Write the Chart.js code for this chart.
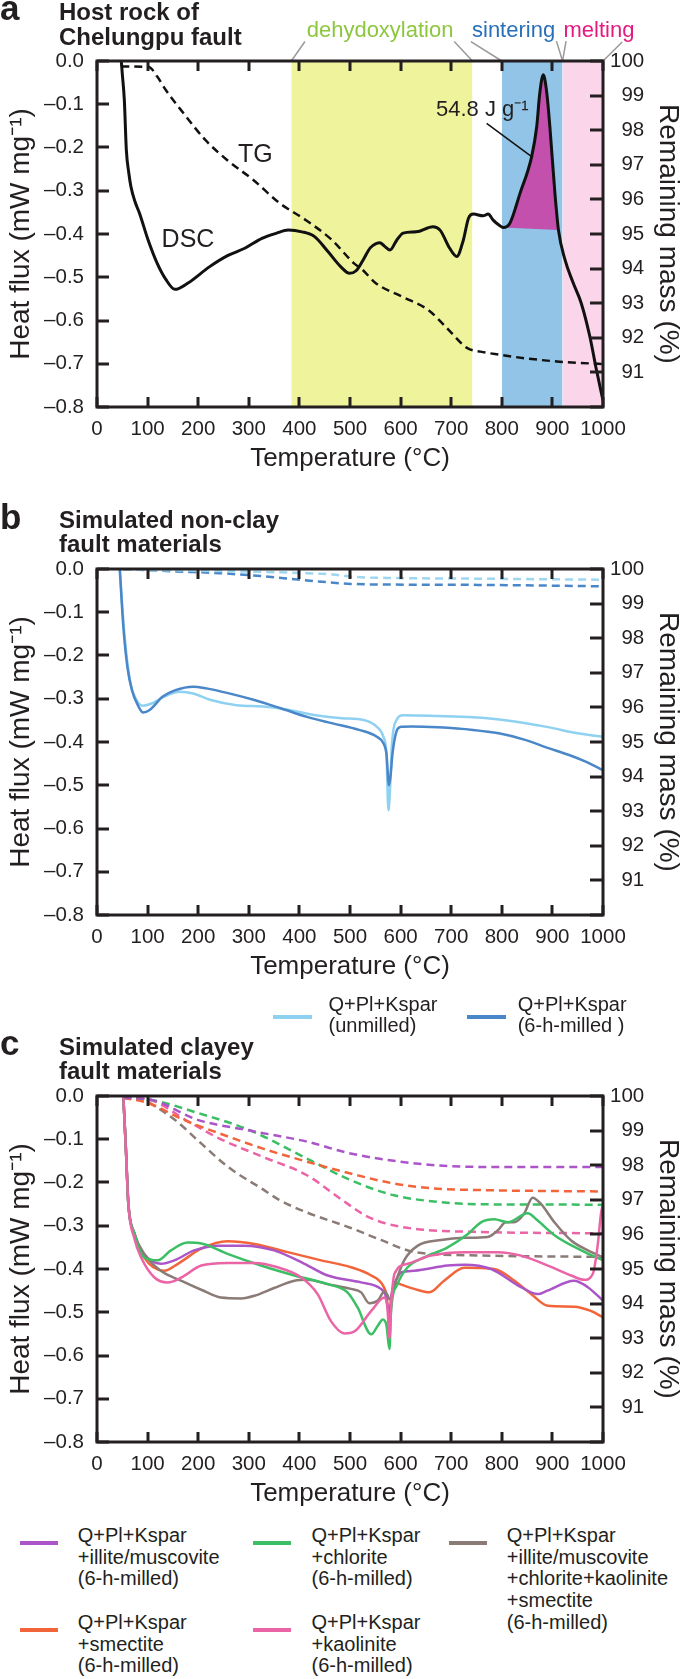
<!DOCTYPE html>
<html lang="en">
<head>
<meta charset="UTF-8">
<title>DSC and TG curves of fault materials</title>
<script src="https://cdn.jsdelivr.net/npm/chart.js"></script>
<style>
  body { margin: 0; background: #fff; font-family: "Liberation Sans", Arial, sans-serif; color: #231f20; }
  #page { position: relative; width: 685px; height: 1679px; overflow: hidden; }
  #page canvas { position: absolute; left: 0; }
  .t { position: absolute; white-space: nowrap; }
  .sw { position: absolute; height: 4px; }
</style>
</head>
<body>
<div id="page">
  <canvas id="chartA" width="685" height="477" style="top:0"></canvas>
  <canvas id="chartB" width="685" height="477" style="top:508px"></canvas>
  <canvas id="chartC" width="685" height="477" style="top:1035px"></canvas>
</div>
<script>
// ---- panel a: host rock of Chelungpu fault ----
const aDscT = [48, 50, 54, 58, 63, 67, 75, 84, 101, 119, 136, 154, 179, 222, 258, 292, 326, 355, 378, 405,
  430, 456, 482, 499, 512, 526, 540, 552, 559, 568, 579, 592, 605, 631, 664, 678, 697, 711, 724, 734,
  744, 763, 773, 783, 795, 803, 816, 836, 859, 869, 875, 882, 889, 895, 905, 912, 925, 940, 957, 974, 987, 1000];
const aDscV = [0, -0.03, -0.09, -0.206, -0.26, -0.29, -0.325, -0.352, -0.414, -0.468, -0.505, -0.528, -0.514, -0.476, -0.45, -0.433, -0.41, -0.398, -0.391, -0.395,
  -0.406, -0.44, -0.476, -0.491, -0.485, -0.46, -0.432, -0.422, -0.42, -0.428, -0.437, -0.415, -0.398, -0.395, -0.383, -0.391, -0.433, -0.452, -0.414, -0.364,
  -0.354, -0.358, -0.354, -0.368, -0.38, -0.385, -0.375, -0.306, -0.221, -0.152, -0.075, -0.032, -0.075, -0.152, -0.306, -0.391, -0.46, -0.51, -0.56, -0.637, -0.714, -0.785];
const aTgT = [48, 102, 119, 136, 171, 214, 257, 309, 361, 413, 464, 508, 525, 551, 603, 655, 689, 732, 758, 801, 845, 914, 1000];
const aTgV = [99.84, 99.83, 99.55, 99.16, 98.49, 97.72, 97.14, 96.56, 95.89, 95.4, 94.83, 94.15, 93.96, 93.58, 93.19, 92.8, 92.32, 91.7, 91.6, 91.5, 91.41, 91.31, 91.24];
const peakRange = [803, 912];
const peakBaseT = [803, 912];
const peakBaseV = [-0.385, -0.391];
const regionNames = ['dehydoxylation', 'sintering', 'melting'];
const regionStart = [384, 800, 920];
const regionEnd = [742, 920, 1000];

// ---- panel b: simulated non-clay fault materials ----
const bNames = ['Q+Pl+Kspar\n(unmilled)', 'Q+Pl+Kspar\n(6-h-milled )'];
const bUnT = [45, 54, 65, 78, 91, 108, 130, 164, 190, 225, 276, 328, 380, 432, 484, 527, 553, 566, 572, 576, 579, 583, 592, 605, 674, 743, 803, 889, 950, 1000];
const bUnV = [0, -0.148, -0.257, -0.303, -0.316, -0.311, -0.297, -0.284, -0.288, -0.303, -0.315, -0.318, -0.326, -0.338, -0.345, -0.349, -0.365, -0.388, -0.427, -0.558, -0.512, -0.403, -0.349, -0.338, -0.34, -0.343, -0.349, -0.365, -0.38, -0.388];
const bMiT = [45, 52, 60, 69, 82, 91, 104, 130, 155, 190, 216, 259, 311, 363, 415, 466, 518, 553, 566, 572, 577, 580, 584, 592, 600, 622, 674, 743, 794, 846, 889, 933, 967, 1000];
const bMiV = [0, -0.133, -0.226, -0.28, -0.318, -0.332, -0.326, -0.295, -0.28, -0.272, -0.276, -0.287, -0.303, -0.322, -0.342, -0.357, -0.372, -0.388, -0.403, -0.427, -0.5, -0.48, -0.427, -0.375, -0.365, -0.364, -0.366, -0.372, -0.38, -0.395, -0.413, -0.43, -0.446, -0.465];
const bUnTgT = [52, 200, 415, 466, 510, 587, 760, 1000];
const bUnTgV = [99.98, 99.95, 99.88, 99.84, 99.77, 99.74, 99.72, 99.69];
const bMiTgT = [52, 155, 242, 328, 415, 501, 587, 760, 1000];
const bMiTgV = [100, 99.93, 99.88, 99.79, 99.67, 99.57, 99.55, 99.54, 99.5];

// ---- panel c: simulated clayey fault materials ----
const cNames = ['Q+Pl+Kspar\n+illite/muscovite\n(6-h-milled)', 'Q+Pl+Kspar\n+smectite\n(6-h-milled)',
  'Q+Pl+Kspar\n+chlorite\n(6-h-milled)', 'Q+Pl+Kspar\n+kaolinite\n(6-h-milled)',
  'Q+Pl+Kspar\n+illite/muscovite\n+chlorite+kaolinite\n+smectite\n(6-h-milled)'];
const cPurT = [52, 57, 62, 74, 93, 126, 153, 192, 239, 291, 350, 410, 456, 522, 561, 570, 575, 578, 582, 594, 601, 627, 693, 726, 779, 838, 871, 890, 943, 970, 1000];
const cPurV = [0, -0.12, -0.25, -0.318, -0.365, -0.388, -0.38, -0.357, -0.346, -0.346, -0.357, -0.388, -0.415, -0.431, -0.446, -0.46, -0.49, -0.5, -0.46, -0.419, -0.408, -0.404, -0.392, -0.39, -0.4, -0.442, -0.458, -0.45, -0.427, -0.442, -0.473];
const cOrgT = [52, 57, 62, 74, 93, 133, 160, 206, 258, 311, 377, 443, 502, 542, 565, 572, 578, 582, 588, 601, 627, 657, 686, 726, 785, 825, 858, 891, 943, 976, 1000];
const cOrgV = [0, -0.12, -0.25, -0.318, -0.373, -0.404, -0.388, -0.353, -0.336, -0.342, -0.361, -0.38, -0.396, -0.415, -0.438, -0.46, -0.52, -0.47, -0.431, -0.436, -0.446, -0.454, -0.427, -0.397, -0.4, -0.427, -0.458, -0.485, -0.487, -0.497, -0.512];
const cGrnT = [52, 57, 62, 74, 93, 120, 146, 179, 206, 258, 324, 390, 456, 495, 515, 542, 555, 565, 572, 578, 581, 594, 614, 647, 693, 733, 759, 785, 812, 851, 871, 904, 957, 1000];
const cGrnV = [0, -0.12, -0.25, -0.318, -0.373, -0.38, -0.357, -0.339, -0.341, -0.365, -0.392, -0.415, -0.435, -0.454, -0.489, -0.551, -0.531, -0.517, -0.53, -0.585, -0.5, -0.435, -0.396, -0.373, -0.35, -0.319, -0.292, -0.285, -0.292, -0.271, -0.288, -0.322, -0.357, -0.38];
const cPnkT = [52, 57, 62, 74, 87, 113, 140, 166, 206, 258, 311, 357, 403, 436, 462, 489, 508, 542, 568, 574, 578, 582, 588, 614, 660, 726, 792, 838, 891, 937, 963, 980, 989, 996, 1000];
const cPnkV = [0, -0.12, -0.25, -0.33, -0.373, -0.419, -0.431, -0.42, -0.392, -0.386, -0.386, -0.396, -0.419, -0.458, -0.52, -0.549, -0.545, -0.497, -0.466, -0.49, -0.56, -0.47, -0.411, -0.388, -0.369, -0.361, -0.361, -0.369, -0.392, -0.415, -0.425, -0.411, -0.35, -0.272, -0.25];
const cBrnT = [52, 57, 62, 74, 93, 126, 166, 206, 245, 285, 311, 350, 390, 416, 456, 502, 522, 538, 555, 568, 574, 578, 591, 607, 634, 680, 726, 772, 792, 808, 824, 844, 861, 877, 904, 937, 970, 1000];
const cBrnV = [0, -0.12, -0.25, -0.318, -0.365, -0.404, -0.427, -0.448, -0.466, -0.468, -0.462, -0.444, -0.427, -0.425, -0.435, -0.446, -0.454, -0.479, -0.473, -0.452, -0.46, -0.47, -0.427, -0.38, -0.346, -0.333, -0.328, -0.326, -0.311, -0.292, -0.292, -0.272, -0.235, -0.249, -0.292, -0.334, -0.357, -0.373];
const cPurTgT = [52, 110, 197, 302, 415, 501, 630, 760, 1000];
const cPurTgV = [99.95, 99.88, 99.32, 99.0, 98.68, 98.34, 98.05, 97.95, 97.95];
const cOrgTgT = [52, 102, 173, 242, 328, 415, 501, 587, 674, 760, 1000];
const cOrgTgV = [99.95, 99.79, 99.3, 98.92, 98.48, 98.1, 97.76, 97.47, 97.32, 97.28, 97.24];
const cGrnTgT = [52, 110, 197, 302, 415, 501, 587, 674, 760, 1000];
const cGrnTgV = [99.95, 99.88, 99.52, 99.01, 98.19, 97.57, 97.13, 96.94, 96.87, 96.86];
const cPnkTgT = [52, 100, 120, 181, 242, 328, 415, 484, 530, 561, 628, 760, 1000];
const cPnkTgV = [99.95, 99.9, 99.8, 99.26, 98.77, 98.24, 97.71, 97.0, 96.55, 96.36, 96.16, 96.07, 96.03];
const cBrnTgT = [52, 90, 104, 155, 199, 259, 328, 360, 412, 499, 561, 628, 758, 1000];
const cBrnTgV = [99.95, 99.92, 99.8, 99.3, 98.72, 97.95, 97.3, 97.0, 96.65, 96.2, 95.84, 95.49, 95.39, 95.35];

// ---- styling ----
const ink = '#231f20';
const regionColors = ['#eff39c', '#91c4e6', '#fbd6ea'];
const regionTextColors = ['#8dc63f', '#2a70b8', '#e5197f'];
const bColors = ['#8fd1f1', '#4a87c9'];
const cColors = ['#ab55c8', '#f2643a', '#3cbf64', '#eb64a5', '#8b7b76'];

Chart.defaults.font.family = '"Liberation Sans", Arial, sans-serif';
Chart.defaults.color = ink;

const pts = (xs, ys) => xs.map((x, i) => ({x, y: ys[i]}));

function curve(xs, ys, color, extra) {
  return Object.assign({
    data: pts(xs, ys), borderColor: color, borderWidth: 2.5, pointRadius: 0,
    fill: false, cubicInterpolationMode: 'monotone'
  }, extra || {});
}
function tgCurve(xs, ys, color) {
  return curve(xs, ys, color, {yAxisID: 'y2', borderDash: [8, 5]});
}

// frame and inward tick marks, drawn last over everything in the plot
const framePlugin = {
  id: 'frameTicks',
  afterDraw(chart) {
    const {ctx, chartArea: a, scales} = chart;
    const stub = (x1, y1, x2, y2) => {
      ctx.beginPath(); ctx.moveTo(x1, y1); ctx.lineTo(x2, y2); ctx.stroke();
    };
    ctx.save();
    ctx.strokeStyle = ink;
    ctx.lineWidth = 3;
    ctx.lineCap = 'butt';
    const sx = scales.x, sy = scales.y, sy2 = scales.y2;
    for (let i = 0; i <= 10; i++) {
      const px = Math.round(sx.getPixelForValue(sx.min + i * 100));
      stub(px, a.bottom, px, a.bottom - 10);
      stub(px, a.top, px, a.top + 10);
    }
    for (let i = 0; i <= 8; i++) {
      const py = Math.round(sy.getPixelForValue(sy.min + i * 0.1));
      stub(a.left, py, a.left + 12, py);
    }
    for (let i = 0; i <= 10; i++) {
      const py = Math.round(sy2.getPixelForValue(sy2.min + i));
      stub(a.right, py, a.right - 13, py);
    }
    ctx.strokeRect(a.left, a.top, a.right - a.left, a.bottom - a.top);
    ctx.restore();
  }
};

function scales() {
  const grid = {display: false, drawTicks: false};
  const border = {display: false};
  const tickFont = {size: 20.5};
  return {
    x: {
      type: 'linear', position: 'bottom', min: 0, max: 1000,
      ticks: {stepSize: 100, padding: 10, color: ink, font: tickFont, maxRotation: 0, autoSkip: false,
        callback: v => String(v)},
      grid, border,
      title: {display: true, text: 'Temperature (°C)', color: ink, font: {size: 26}, padding: {top: 0, bottom: 3}},
      afterFit: s => { s.height = 70; }
    },
    y: {
      type: 'linear', position: 'left', min: -0.8, max: 0,
      ticks: {stepSize: 0.1, padding: 13, color: ink, font: tickFont,
        callback: v => Math.abs(v) < 1e-9 ? '0.0' : '\u2013' + Math.abs(v).toFixed(1)},
      grid, border,
      title: {display: true, text: 'Heat flux (mW mg\u207B\u00B9)', color: ink, font: {size: 28}, padding: {top: 4, bottom: 0}},
      afterFit: s => { s.width = 97; }
    },
    y2: {
      type: 'linear', position: 'right', min: 90, max: 100,
      ticks: {stepSize: 1, padding: 7, color: ink, font: tickFont,
        callback: v => v === 90 ? '' : (v < 100 ? '\u2007' + v : String(v))},
      grid, border,
      title: {display: true, text: 'Remaining mass (%)', color: ink, font: {size: 28}, padding: {top: 0, bottom: 0}},
      afterFit: s => { s.width = 82; }
    }
  };
}

function makeChart(id, datasets) {
  return new Chart(document.getElementById(id), {
    type: 'line',
    data: {datasets},
    options: {
      responsive: false, animation: false, devicePixelRatio: 1, events: [],
      layout: {padding: {top: 61, left: 0, right: 0, bottom: 0}},
      plugins: {legend: {display: false}, tooltip: {enabled: false}},
      scales: scales()
    },
    plugins: [framePlugin]
  });
}

// ---- panel a datasets ----
const aDsc = pts(aDscT, aDscV);
const peakPts = aDsc.filter(p => p.x >= peakRange[0] && p.x <= peakRange[1]);
// leader lines from the region labels down to the region edges (x in °C, y in mW/mg above the frame)
const leaderFrom = [[411, 0.045], [706, 0.045], [739, 0.045], [908, 0.046], [927, 0.046], [1038, 0.044]];
const leaderTo = [384, 742, 800, 920, 920, 1000];

const aSets = [
  curve(aDscT, aDscV, '#111', {borderWidth: 3}),
  tgCurve(aTgT, aTgV, '#111'),
  {data: peakPts, borderWidth: 0, pointRadius: 0, backgroundColor: '#c350ad', fill: '+1', cubicInterpolationMode: 'monotone'},
  {data: pts(peakBaseT, peakBaseV), borderWidth: 0, pointRadius: 0, fill: false},
  {data: [{x: 770, y: -0.144}, {x: 881, y: -0.24}], borderColor: '#111', borderWidth: 1.5, pointRadius: 0, fill: false}
];
leaderFrom.forEach((p, i) => {
  aSets.push({data: [{x: p[0], y: p[1]}, {x: leaderTo[i], y: 0}], borderColor: '#9a9a9a', borderWidth: 1.5,
    pointRadius: 0, fill: false, clip: false});
});
regionStart.forEach((s, i) => {
  aSets.push({data: [{x: s, y: 0}, {x: regionEnd[i], y: 0}], borderWidth: 0, pointRadius: 0,
    backgroundColor: regionColors[i], fill: 'start'});
});
makeChart('chartA', aSets);

// ---- panel b datasets ----
makeChart('chartB', [
  curve(bMiT, bMiV, bColors[1]),
  curve(bUnT, bUnV, bColors[0]),
  tgCurve(bUnTgT, bUnTgV, '#9fd6f0'),
  tgCurve(bMiTgT, bMiTgV, bColors[1])
]);

// ---- panel c datasets ----
makeChart('chartC', [
  curve(cPnkT, cPnkV, cColors[3]),
  curve(cGrnT, cGrnV, cColors[2]),
  curve(cBrnT, cBrnV, cColors[4]),
  curve(cPurT, cPurV, cColors[0]),
  curve(cOrgT, cOrgV, cColors[1]),
  tgCurve(cPurTgT, cPurTgV, cColors[0]),
  tgCurve(cOrgTgT, cOrgTgV, cColors[1]),
  tgCurve(cGrnTgT, cGrnTgV, cColors[2]),
  tgCurve(cPnkTgT, cPnkTgV, cColors[3]),
  tgCurve(cBrnTgT, cBrnTgV, cColors[4])
]);

// ---- text and legends (HTML) ----
const page = document.getElementById('page');
function put(text, x, base, size, opts) {
  opts = opts || {};
  const el = document.createElement('div');
  el.className = 't';
  el.textContent = text;
  el.style.left = x + 'px';
  el.style.top = (base - 0.8465 * size) + 'px';
  el.style.fontSize = size + 'px';
  el.style.lineHeight = size + 'px';
  if (opts.bold) el.style.fontWeight = 'bold';
  if (opts.color) el.style.color = opts.color;
  page.appendChild(el);
}
function lines(text, x, base, size, step) {
  text.split('\n').forEach((ln, i) => put(ln, x, base + i * step, size));
}
function swatch(x, y, w, color) {
  const el = document.createElement('div');
  el.className = 'sw';
  el.style.left = x + 'px';
  el.style.top = (y - 2) + 'px';
  el.style.width = w + 'px';
  el.style.background = color;
  page.appendChild(el);
}

// panel headings
put('a', 0, 20, 35, {bold: true});
put('Host rock of', 59, 20.7, 24, {bold: true});
put('Chelungpu fault', 59, 45, 24, {bold: true});
put('b', 0, 528.3, 35, {bold: true});
put('Simulated non-clay', 59, 528.3, 24, {bold: true});
put('fault materials', 59, 552.7, 24, {bold: true});
put('c', 0, 1055, 35, {bold: true});
put('Simulated clayey', 59, 1055, 24, {bold: true});
put('fault materials', 59, 1079.3, 24, {bold: true});

// panel a annotations
const regionLabelX = [306.7, 472, 563.5];
regionNames.forEach((n, i) => put(n, regionLabelX[i], 37.7, 22, {color: regionTextColors[i]}));
put('TG', 238, 162, 25);
put('DSC', 161.6, 247, 25);
put('54.8 J g\u207B\u00B9', 436, 116.7, 22);

// panel b legend
const bSwX = [273, 467], bTxtX = [328.5, 517.7];
bNames.forEach((n, i) => {
  swatch(bSwX[i], 1016.5, 39, bColors[i]);
  lines(n, bTxtX[i], 1011, 20, 21.3);
});

// panel c legend
const cSwX = [19.7, 19.7, 253.4, 253.4, 448.7];
const cTxtX = [77.8, 77.8, 311.5, 311.5, 506.8];
const cRowY = [1542, 1629, 1542, 1629, 1542];
cNames.forEach((n, i) => {
  swatch(cSwX[i], cRowY[i] + 1, 38, cColors[i]);
  lines(n, cTxtX[i], cRowY[i], 20, 21.7);
});
</script>
</body>
</html>
